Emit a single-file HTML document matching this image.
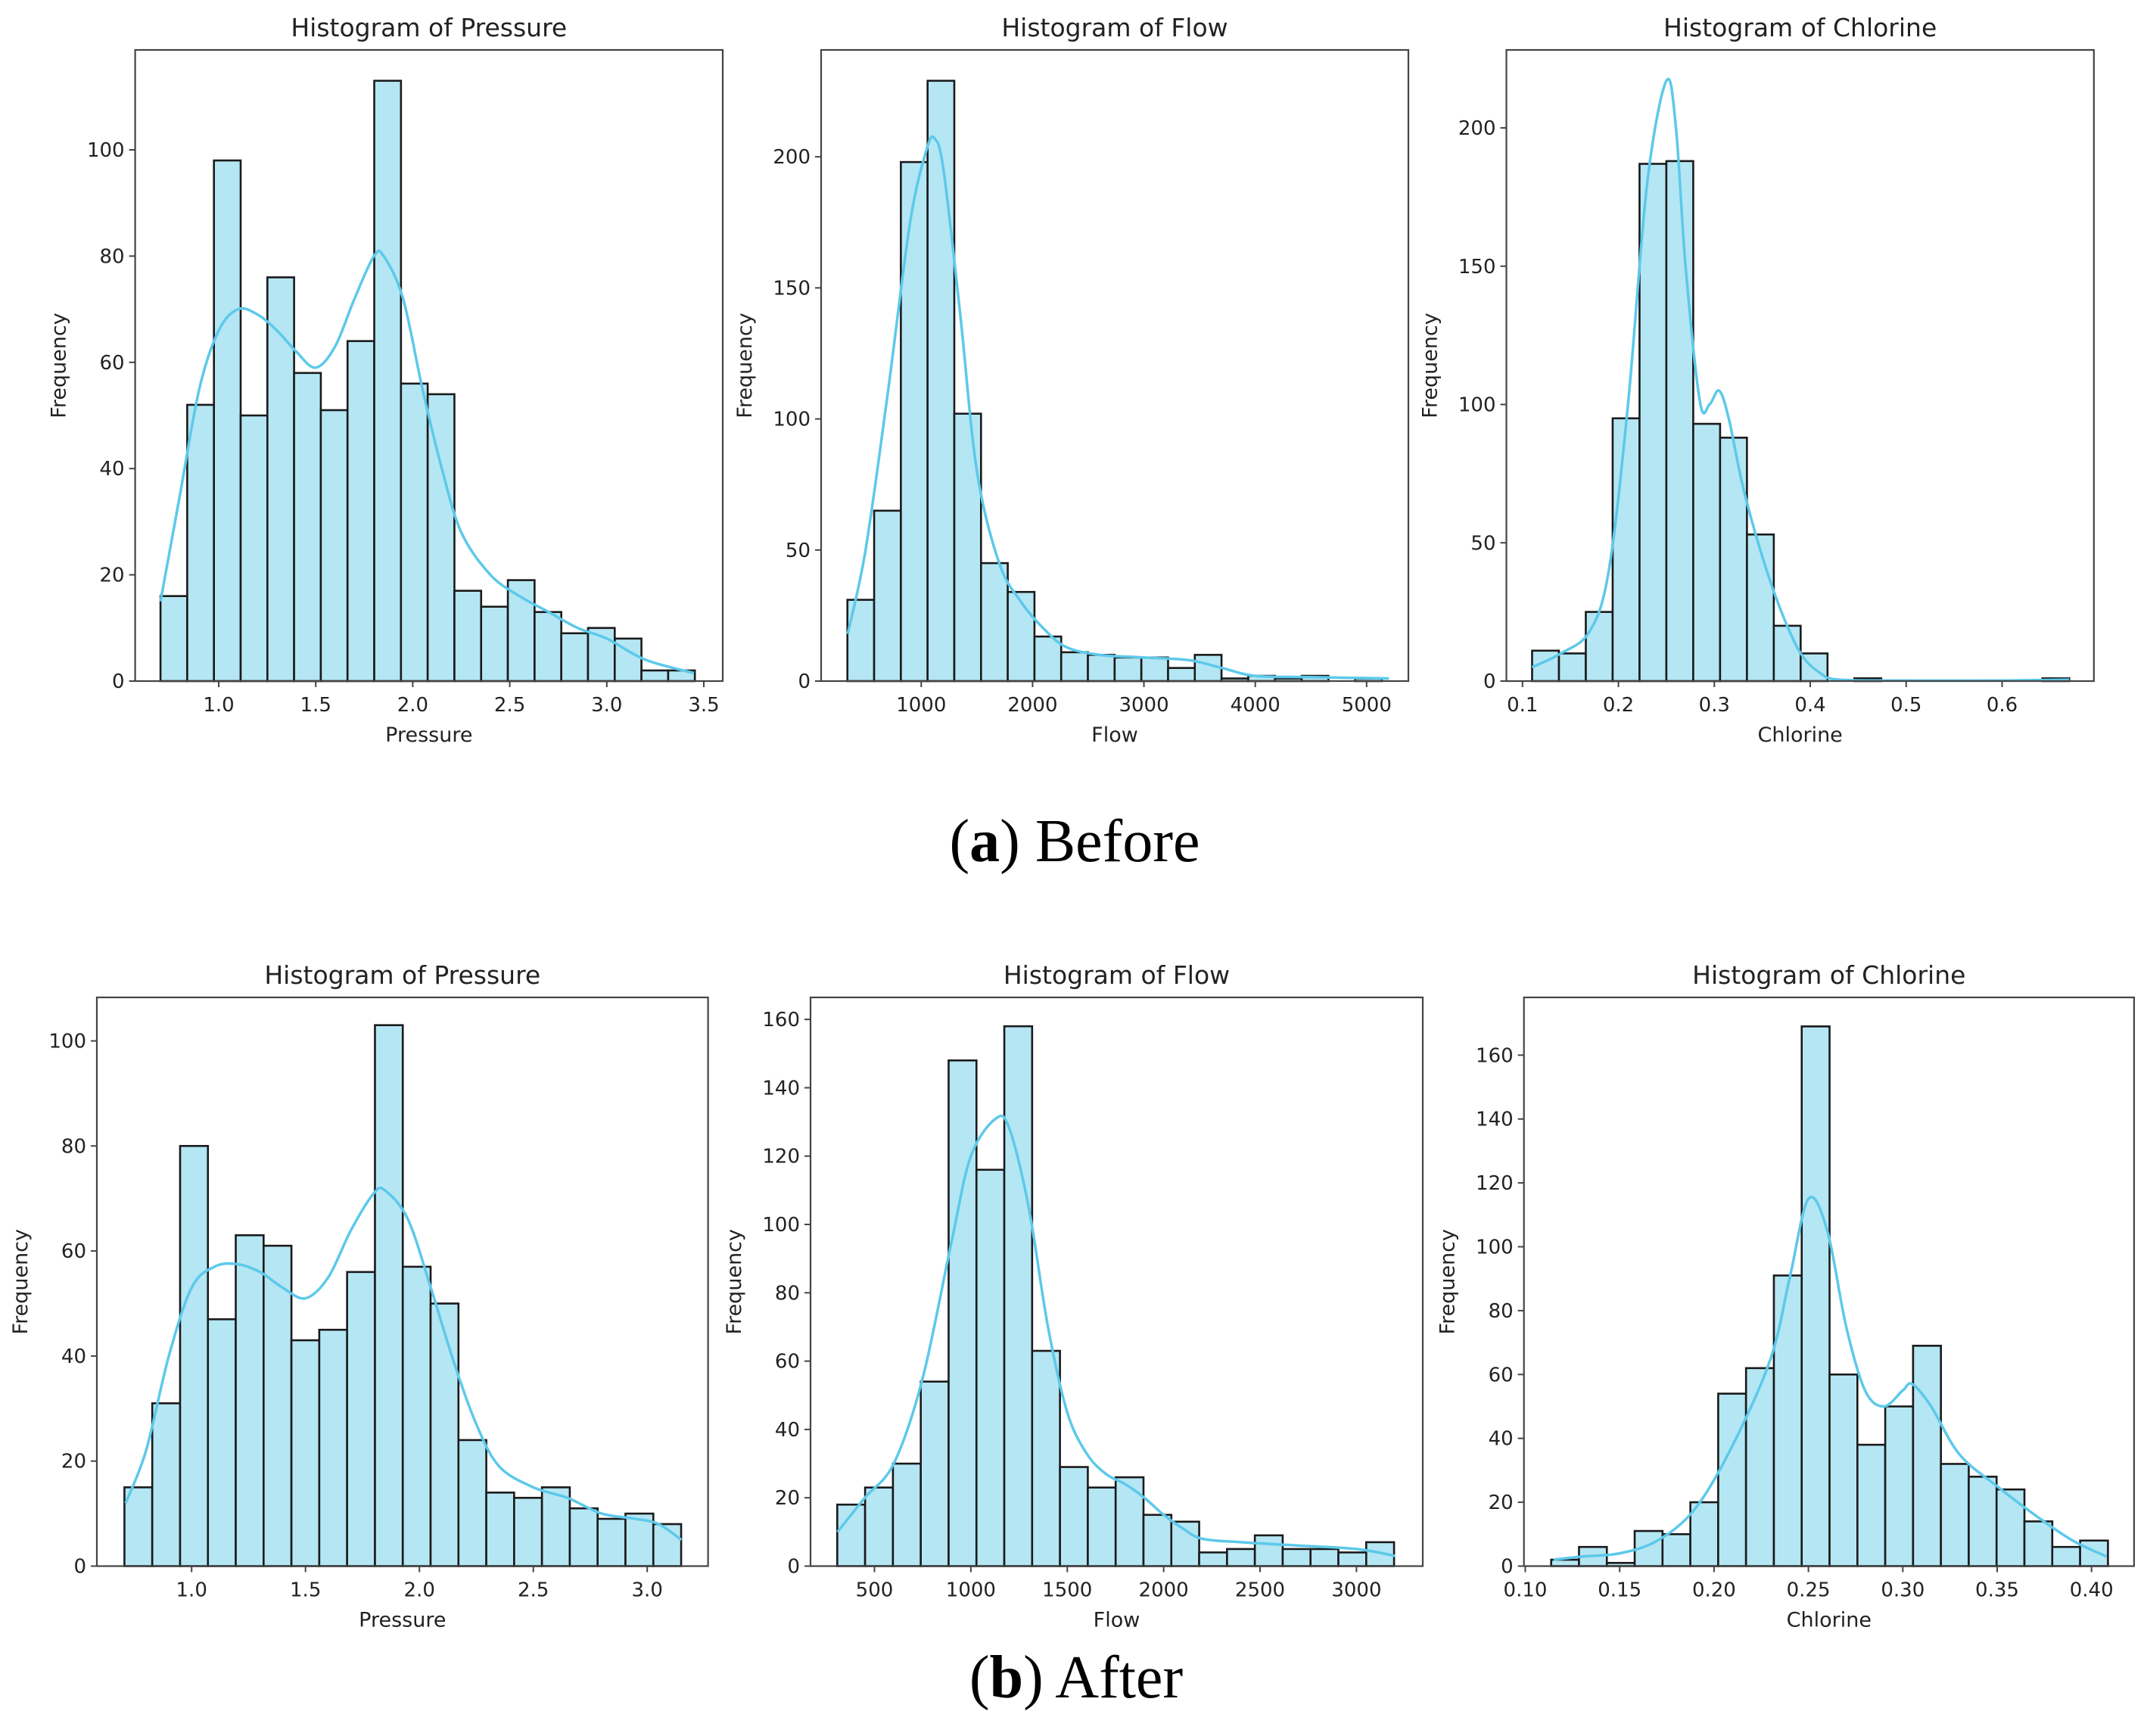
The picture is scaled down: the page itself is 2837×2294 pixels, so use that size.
<!DOCTYPE html>
<html><head><meta charset="utf-8"><style>
html,body{margin:0;padding:0;background:#fff;}
svg{display:block;}
text{font-family:"DejaVu Sans","Liberation Sans",sans-serif;fill:#222;}
.cap{font-family:"Liberation Serif",serif;fill:#000;}
</style></head><body>
<svg id="fig" width="2837" height="2294" viewBox="0 0 2837 2294" xmlns="http://www.w3.org/2000/svg">
<text class="cap" x="1420" y="1138" font-size="80" text-anchor="middle">(<tspan font-weight="bold">a</tspan>) Before</text>
<text class="cap" x="1422" y="2243" font-size="80" text-anchor="middle">(<tspan font-weight="bold">b</tspan>) After</text>
</svg>
<script>
// ---- Data ----
const a1Counts = [16,52,98,50,76,58,51,64,113,56,54,17,14,19,13,9,10,8,2,2];
const a1KdeX = [0.70,0.8,0.9,1.0,1.1,1.2,1.3,1.4,1.5,1.6,1.7,1.8,1.85,1.95,2.05,2.15,2.25,2.4,2.55,2.7,2.85,3.0,3.2,3.45];
const a1KdeY = [15,35,55,66,70,69,66,62,59,63,72,80,80,72,55,40,28,20,16,13,10,8,4,1.5];
const a1XTicks = [1.0,1.5,2.0,2.5,3.0,3.5];
const a1XTickLabels = ["1.0","1.5","2.0","2.5","3.0","3.5"];
const a1YTicks = [0,20,40,60,80,100];

const a2Counts = [31,65,198,229,102,45,34,17,11,10,9,9,5,10,1,2,1,2,0,1];
const a2KdeX = [340,500,700,900,1050,1120,1200,1350,1500,1700,1900,2100,2300,2600,3000,3400,3700,4000,4500,5200];
const a2KdeY = [18,50,110,175,203,207,195,140,80,45,30,20,13,10,9,8,5,2,1.5,1];
const a2XTicks = [1000,2000,3000,4000,5000];
const a2XTickLabels = ["1000","2000","3000","4000","5000"];
const a2YTicks = [0,50,100,150,200];

const a3Counts = [11,10,25,95,187,188,93,88,53,20,10,0,1,0,0,0,0,0,0,1];
const a3KdeX = [0.11,0.14,0.17,0.19,0.21,0.23,0.25,0.26,0.27,0.285,0.295,0.305,0.315,0.33,0.35,0.37,0.39,0.41,0.43,0.5,0.6,0.67];
const a3KdeY = [5,10,18,40,100,180,217,200,150,101,100,105,95,70,45,25,10,3,0.5,0.2,0.2,0.5];
const a3XTicks = [0.1,0.2,0.3,0.4,0.5,0.6];
const a3XTickLabels = ["0.1","0.2","0.3","0.4","0.5","0.6"];
const a3YTicks = [0,50,100,150,200];

const b1Counts = [15,31,80,47,63,61,43,45,56,103,57,50,24,14,13,15,11,9,10,8];
const b1KdeX = [0.71,0.8,0.9,1.0,1.1,1.2,1.3,1.4,1.5,1.6,1.7,1.8,1.85,1.95,2.05,2.15,2.25,2.35,2.5,2.65,2.8,2.95,3.05,3.15];
const b1KdeY = [12,22,40,53,57,57.5,56,53,51,55,64,71,71.5,66,53,39,27,19,15,13,10,9,8,5];
const b1XTicks = [1.0,1.5,2.0,2.5,3.0];
const b1XTickLabels = ["1.0","1.5","2.0","2.5","3.0"];
const b1YTicks = [0,20,40,60,80,100];

const b2Counts = [18,23,30,54,148,116,158,63,29,23,26,15,13,4,5,9,5,5,4,7];
const b2KdeX = [308,450,600,750,900,1000,1130,1200,1300,1400,1500,1600,1700,1800,1900,2000,2100,2200,2400,2700,3000,3200];
const b2KdeY = [10,20,30,55,95,120,131,128,105,70,45,33,27,24,20,15,11,8,7,6,5,3];
const b2XTicks = [500,1000,1500,2000,2500,3000];
const b2XTickLabels = ["500","1000","1500","2000","2500","3000"];
const b2YTicks = [0,20,40,60,80,100,120,140,160];

const b3Counts = [2,6,1,11,10,20,54,62,91,169,60,38,50,69,32,28,24,14,6,8];
const b3KdeX = [0.115,0.13,0.15,0.17,0.19,0.21,0.23,0.24,0.25,0.26,0.27,0.28,0.29,0.30,0.305,0.315,0.33,0.35,0.37,0.39,0.408];
const b3KdeY = [2,3,4,8,18,38,65,90,115,105,75,55,50,55,57,50,35,25,16,8,3];
const b3XTicks = [0.10,0.15,0.20,0.25,0.30,0.35,0.40];
const b3XTickLabels = ["0.10","0.15","0.20","0.25","0.30","0.35","0.40"];
const b3YTicks = [0,20,40,60,80,100,120,140,160];

// ---- Layout (pixel geometry, not data) ----
const panels = [
 {id:'a1',title:'Histogram of Pressure',xl:'Pressure',L:178.6,R:955,T:66,B:900,x0:1.0,px0:289,x1:3.5,px1:930,yUnit:140.4/20,binStart:0.70,binW:0.1377,counts:a1Counts,kx:a1KdeX,ky:a1KdeY,xt:a1XTicks,xtl:a1XTickLabels,yt:a1YTicks},
 {id:'a2',title:'Histogram of Flow',xl:'Flow',L:1085,R:1861,T:66,B:900,x0:1000,px0:1217.3,x1:5000,px1:1805.8,yUnit:173.2/50,binStart:337,binW:240,counts:a2Counts,kx:a2KdeX,ky:a2KdeY,xt:a2XTicks,xtl:a2XTickLabels,yt:a2YTicks},
 {id:'a3',title:'Histogram of Chlorine',xl:'Chlorine',L:1990.5,R:2766.8,T:66,B:900,x0:0.1,px0:2011.8,x1:0.6,px1:2645.5,yUnit:182.75/50,binStart:0.110,binW:0.0280,counts:a3Counts,kx:a3KdeX,ky:a3KdeY,xt:a3XTicks,xtl:a3XTickLabels,yt:a3YTicks},
 {id:'b1',title:'Histogram of Pressure',xl:'Pressure',L:128,R:935.6,T:1318,B:2069.5,x0:1.0,px0:253.2,x1:3.0,px1:855.2,yUnit:138.8/20,binStart:0.705,binW:0.1222,counts:b1Counts,kx:b1KdeX,ky:b1KdeY,xt:b1XTicks,xtl:b1XTickLabels,yt:b1YTicks},
 {id:'b2',title:'Histogram of Flow',xl:'Flow',L:1071,R:1880,T:1318,B:2069.5,x0:500,px0:1155.5,x1:3000,px1:1792.4,yUnit:90.3/20,binStart:307,binW:144.4,counts:b2Counts,kx:b2KdeX,ky:b2KdeY,xt:b2XTicks,xtl:b2XTickLabels,yt:b2YTicks},
 {id:'b3',title:'Histogram of Chlorine',xl:'Chlorine',L:2013.7,R:2819.9,T:1318,B:2069.5,x0:0.10,px0:2015.5,x1:0.40,px1:2763.7,yUnit:84.4/20,binStart:0.1137,binW:0.01475,counts:b3Counts,kx:b3KdeX,ky:b3KdeY,xt:b3XTicks,xtl:b3XTickLabels,yt:b3YTicks}
];

const NS='http://www.w3.org/2000/svg';
const svg=document.getElementById('fig');
function mk(tag,attrs,parent){const e=document.createElementNS(NS,tag);for(const k in attrs)e.setAttribute(k,attrs[k]);(parent||svg).appendChild(e);return e;}

panels.forEach(p=>{
  const g=mk('g',{});
  
  
  const sx=v=>p.px0+(v-p.x0)*(p.px1-p.px0)/(p.x1-p.x0);
  const sy=v=>p.B-v*p.yUnit;
  p.counts.forEach((c,i)=>{
    const xa=sx(p.binStart+i*p.binW), xb=sx(p.binStart+(i+1)*p.binW);
    if(c<=0) return;
    const r=mk('rect',{x:xa,y:sy(c),width:xb-xa,height:p.B-sy(c),fill:'#b5e6f4',stroke:'#1a1a1a','stroke-width':2.6},g);
    
    
  });
  const pts=p.kx.map((x,i)=>[sx(x),sy(p.ky[i])]);
  let d='M'+pts[0][0]+','+pts[0][1];
  for(let i=0;i<pts.length-1;i++){
    const p0=pts[Math.max(0,i-1)],p1=pts[i],p2=pts[i+1],p3=pts[Math.min(pts.length-1,i+2)];
    const c1=[p1[0]+(p2[0]-p0[0])/6,p1[1]+(p2[1]-p0[1])/6];
    const c2=[p2[0]-(p3[0]-p1[0])/6,p2[1]-(p3[1]-p1[1])/6];
    d+=' C'+c1[0]+','+c1[1]+' '+c2[0]+','+c2[1]+' '+p2[0]+','+p2[1];
  }
  const kde=mk('path',{d:d,fill:'none',stroke:'#5cc9ea','stroke-width':3.5},g);
  
  
  const fr=mk('rect',{x:p.L,y:p.T,width:p.R-p.L,height:p.B-p.T,fill:'none',stroke:'#444','stroke-width':2.2},g);
  
  
  p.xt.forEach((v,i)=>{
    const x=sx(v);
    mk('line',{x1:x,y1:p.B,x2:x,y2:p.B+8,stroke:'#444','stroke-width':2},g);
    const t=mk('text',{x:x,y:p.B+40,'font-size':26,'text-anchor':'middle'},g);
    t.textContent=p.xtl[i];
    
    
  });
  p.yt.forEach(v=>{
    const y=sy(v);
    mk('line',{x1:p.L-8,y1:y,x2:p.L,y2:y,stroke:'#444','stroke-width':2},g);
    const t=mk('text',{x:p.L-14,y:y+9,'font-size':26,'text-anchor':'end'},g);
    t.textContent=String(v);
    
    
  });
  const tt=mk('text',{x:(p.L+p.R)/2,y:p.T-18,'font-size':33,'text-anchor':'middle'},g);
  tt.textContent=p.title;
  
  
  const xl=mk('text',{x:(p.L+p.R)/2,y:p.B+80,'font-size':27,'text-anchor':'middle'},g);
  xl.textContent=p.xl;
  
  
  const yx=p.L-92, yy=(p.T+p.B)/2;
  const yl=mk('text',{x:yx,y:yy,'font-size':27,'text-anchor':'middle',transform:'rotate(-90 '+yx+' '+yy+')'},g);
  yl.textContent='Frequency';
  
  
});
</script>
</body></html>
